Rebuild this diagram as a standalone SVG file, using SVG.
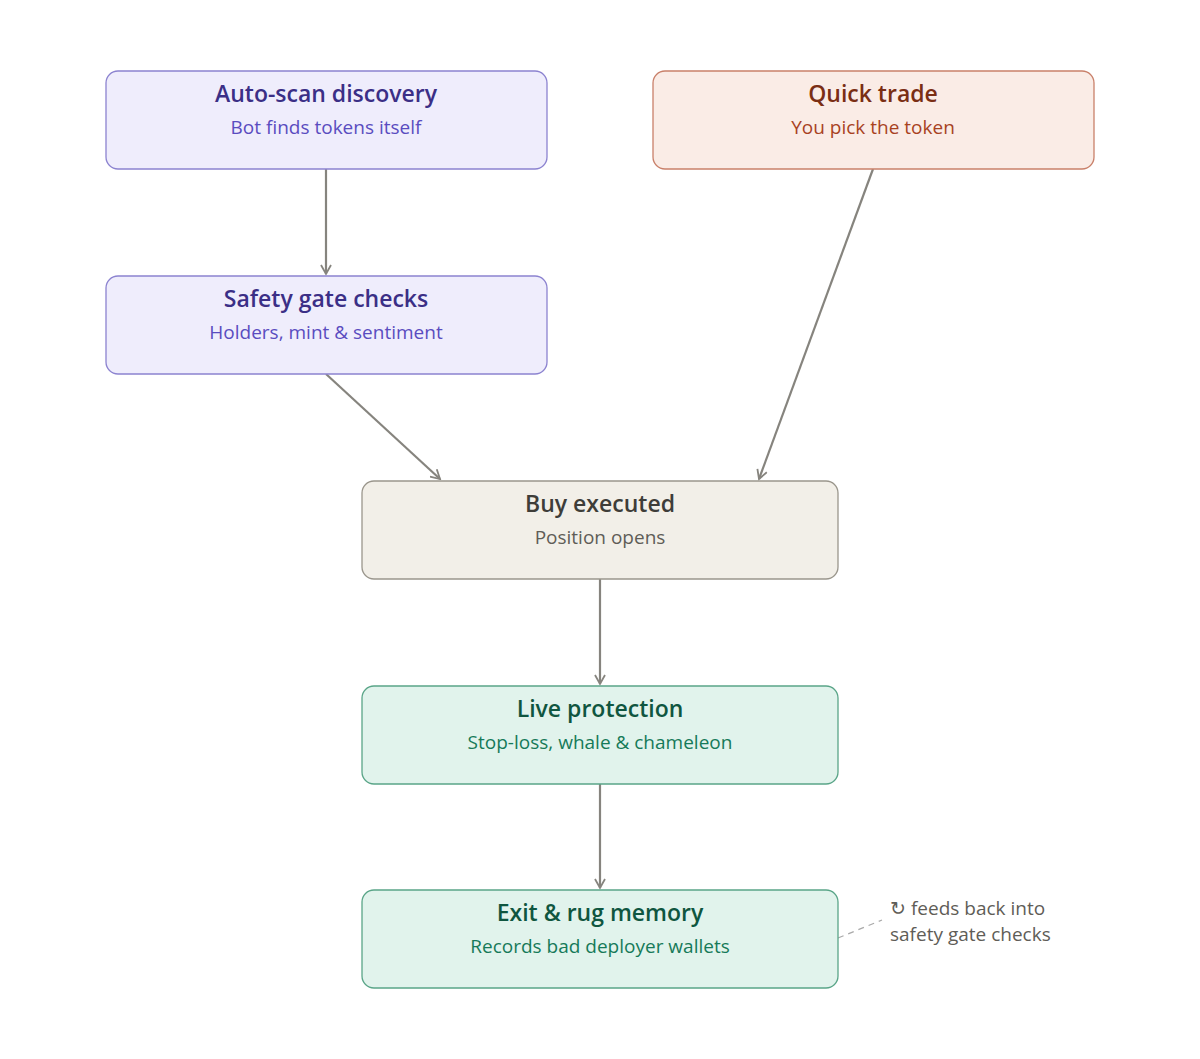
<svg xmlns="http://www.w3.org/2000/svg" width="1200" height="1059" viewBox="0 0 1200 1059">
<style>
.t{font-family:"Open Sans","Noto Sans",sans-serif;font-size:23px;font-weight:600;text-anchor:middle}
.s{font-family:"Open Sans","Noto Sans",sans-serif;font-size:19px;text-anchor:middle}
.e{stroke:#86847e;stroke-width:2.2;fill:none;marker-end:url(#a)}
</style>
<defs><marker id="a" viewBox="0 0 12 12" refX="10" refY="6" markerWidth="12" markerHeight="12" markerUnits="userSpaceOnUse" orient="auto"><path d="M1 1 L10 6 L1 11" fill="none" stroke="#86847e" stroke-width="1.8"/></marker></defs>
<rect width="1200" height="1059" fill="#fff"/>
<g id="connectors">
<line class="e" x1="326" y1="169" x2="326" y2="274"/>
<line class="e" x1="873" y1="169" x2="759" y2="479"/>
<line class="e" x1="326" y1="374" x2="440" y2="479"/>
<line class="e" x1="600" y1="579" x2="600" y2="684"/>
<line class="e" x1="600" y1="784" x2="600" y2="888"/>
<line x1="838" y1="938" x2="882" y2="920" stroke="#aaa" stroke-width="1.3" stroke-dasharray="6 5"/>
</g>
<g id="n1"><rect x="106" y="71" width="441" height="98" rx="12" fill="#efedfc" stroke="#8c83d0" stroke-width="1.3"/><text class="t" x="326" y="102" fill="#3b2f86">Auto-scan discovery</text><text class="s" x="326" y="134" fill="#5a4cc0">Bot finds tokens itself</text></g>
<g id="n2"><rect x="653" y="71" width="441" height="98" rx="12" fill="#faece6" stroke="#c9806a" stroke-width="1.3"/><text class="t" x="873" y="102" fill="#7a2e14">Quick trade</text><text class="s" x="873" y="134" fill="#a8421f">You pick the token</text></g>
<g id="n3"><rect x="106" y="276" width="441" height="98" rx="12" fill="#efedfc" stroke="#8c83d0" stroke-width="1.3"/><text class="t" x="326" y="307" fill="#3b2f86">Safety gate checks</text><text class="s" x="326" y="339" fill="#5a4cc0">Holders, mint &amp; sentiment</text></g>
<g id="n4"><rect x="362" y="481" width="476" height="98" rx="12" fill="#f2efe8" stroke="#9a968c" stroke-width="1.3"/><text class="t" x="600" y="512" fill="#3e3d39">Buy executed</text><text class="s" x="600" y="544" fill="#5f5d57">Position opens</text></g>
<g id="n5"><rect x="362" y="686" width="476" height="98" rx="12" fill="#e1f3ec" stroke="#5aa588" stroke-width="1.3"/><text class="t" x="600" y="717" fill="#0f5640">Live protection</text><text class="s" x="600" y="749" fill="#167a59">Stop-loss, whale &amp; chameleon</text></g>
<g id="n6"><rect x="362" y="890" width="476" height="98" rx="12" fill="#e1f3ec" stroke="#5aa588" stroke-width="1.3"/><text class="t" x="600" y="921" fill="#0f5640">Exit &amp; rug memory</text><text class="s" x="600" y="953" fill="#167a59">Records bad deployer wallets</text></g>
<g id="note" font-family="'Open Sans','Noto Sans',sans-serif" font-size="19" fill="#5f5d57"><text x="890" y="915">↻ feeds back into</text><text x="890" y="941">safety gate checks</text></g>
</svg>
